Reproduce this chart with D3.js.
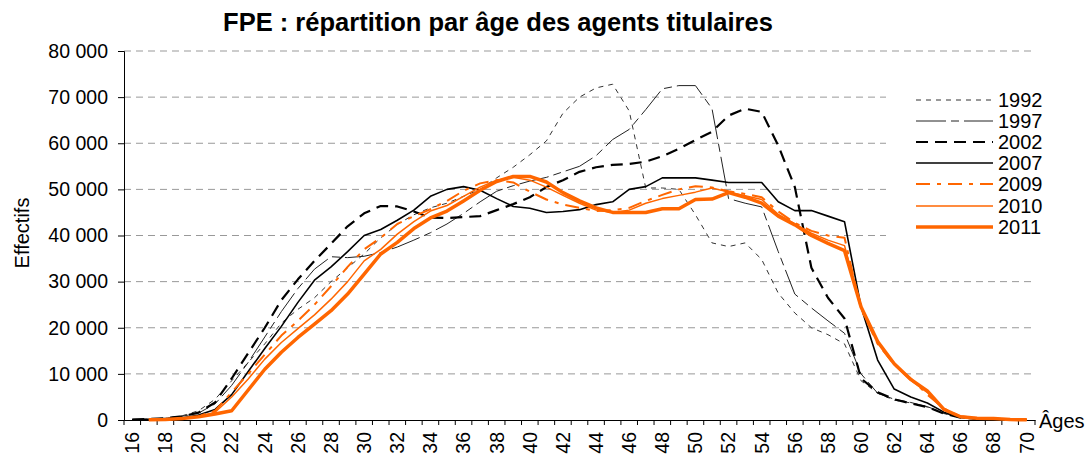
<!DOCTYPE html>
<html>
<head>
<meta charset="utf-8">
<script src="https://d3js.org/d3.v7.min.js"></script>
<style>
  body { margin: 0; background: #fff; }
  svg text { font-family: "Liberation Sans", Arial, sans-serif; fill: #000; }
</style>
</head>
<body>
<svg id="chart" width="1089" height="458"></svg>
<script>
// ages 16..70
var ages = d3.range(16, 71);
var yTicks = [0, 10000, 20000, 30000, 40000, 50000, 60000, 70000, 80000];
var xLabels = d3.range(16, 71, 2);

var y1992 = [100,200,400,900,2000,4500,8500,12500,16500,21000,24000,26500,30000,33000,36000,39500,42400,44500,46000,47000,48500,50000,52500,54800,57500,60500,66500,70000,72000,72800,67000,50300,50300,50000,44500,38400,37600,38400,34800,27500,23200,20000,18500,16500,8500,5800,4300,3700,2800,1400,500,250,150,80,30];
var y1997 = [100,200,400,800,1500,3500,7500,12500,18000,23500,28500,32700,35400,35200,35500,36300,37500,39000,40600,42500,44800,47300,49600,50800,51800,52600,53800,55000,57300,60800,63000,67300,71800,72500,72500,67500,48000,47000,46200,36500,27300,24300,21500,18800,10000,5800,4500,3800,2900,1500,500,250,150,80,30];
var y2002 = [100,200,400,800,1600,3800,9000,14500,20000,26000,30500,34500,38200,42000,44800,46400,46300,45200,43900,43800,44000,44200,45500,46800,48300,50500,52000,53800,54800,55300,55500,56000,57200,58800,60700,62500,66000,67500,66800,59500,50500,33000,26500,22000,9000,6000,4500,3600,2800,1400,500,250,150,80,30];
var y2007 = [100,100,200,400,1100,2300,5500,10500,15500,20300,25500,30300,33200,36500,40000,41300,43300,45500,48500,50000,50600,49800,48000,46300,45900,45000,45200,45600,46700,47300,50000,50600,52500,52500,52500,52000,51500,51500,51500,47300,45400,45400,44200,43000,24500,13000,6700,5000,3700,1700,600,300,150,80,30];
var y2009 = [null,50,100,300,800,2000,6000,10000,14200,18300,21500,25000,29000,33200,37000,39500,42500,44200,45700,47500,49700,51300,52000,51500,49500,47800,46700,46000,45300,45500,46000,47500,48800,50000,50700,50400,49600,49000,48300,45200,42700,41000,40000,39500,24000,16500,12000,9000,5500,2500,800,400,300,100,30];
var y2010 = [null,50,100,250,700,1700,5000,8900,13200,16800,19800,22800,26200,30000,34500,37000,40300,43000,45300,46500,48500,50500,52000,52600,52000,50500,48700,47000,45500,45000,45500,47000,48000,48700,49400,50300,49400,48600,47800,44600,42500,40500,39000,37800,24500,16800,12000,8600,6000,2300,700,400,300,100,30];
var y2011 = [null,50,100,300,700,1300,2000,6500,11000,14700,17900,20800,23700,27300,31600,36000,38500,41500,43800,45300,47500,49800,51700,52800,52800,51600,49300,47500,46000,45000,45000,45000,45800,45800,47800,47900,49300,48300,47000,44200,42300,40000,38300,36700,24500,17000,12200,8800,6300,2300,700,400,350,100,30];

var series = [
  { name: "1992", values: y1992, color: "#333", width: 1, dash: "5,5" },
  { name: "1997", values: y1997, color: "#222", width: 1, dash: "30,5,8,5" },
  { name: "2002", values: y2002, color: "#000", width: 2.2, dash: "12,7" },
  { name: "2007", values: y2007, color: "#000", width: 1.6, dash: null },
  { name: "2009", values: y2009, color: "#ff6600", width: 2, dash: "14,7,4,7" },
  { name: "2010", values: y2010, color: "#ff6600", width: 1.5, dash: null },
  { name: "2011", values: y2011, color: "#ff6600", width: 3.5, dash: null }
];

var svg = d3.select("#chart");
var plotLeft = 124, plotRight = 1035, plotTop = 51, plotBottom = 420;

var x = d3.scaleBand().domain(ages).range([plotLeft, plotRight]).padding(0);
var y = d3.scaleLinear().domain([0, 80000]).range([plotBottom, plotTop]);
var fmt = function(d) { return d3.format(",")(d).replace(/,/g, " "); };

// grid
svg.append("g").selectAll("line")
  .data(yTicks.filter(function(d) { return d > 0; }))
  .enter().append("line")
  .attr("x1", plotLeft).attr("x2", plotRight)
  .attr("y1", function(d) { return y(d); })
  .attr("y2", function(d) { return y(d); })
  .attr("stroke", "#999")
  .attr("stroke-dasharray", "7,5");

// y axis
var yAxis = svg.append("g")
  .attr("transform", "translate(" + plotLeft + ",0)")
  .call(d3.axisLeft(y).tickValues(yTicks).tickSize(6).tickPadding(10).tickFormat(fmt));
yAxis.select(".domain").attr("stroke", "#000");
yAxis.selectAll("text").style("font-size", "19.5px");

// x axis
var xAxis = svg.append("g")
  .attr("transform", "translate(0," + plotBottom + ")")
  .call(d3.axisBottom(x).tickSize(0).tickFormat(function(d) { return xLabels.indexOf(d) >= 0 ? d : ""; }));
xAxis.select(".domain").attr("stroke", "#000");
xAxis.selectAll("text")
  .style("font-size", "19.5px")
  .attr("text-anchor", "end")
  .attr("transform", "rotate(-90)")
  .attr("x", -12)
  .attr("y", 0)
  .attr("dy", "0.35em");
// tick marks between categories
svg.append("g").selectAll("line")
  .data(ages.concat([71]))
  .enter().append("line")
  .attr("x1", function(d) { return d <= 70 ? x(d) : plotRight; })
  .attr("x2", function(d) { return d <= 70 ? x(d) : plotRight; })
  .attr("y1", plotBottom).attr("y2", plotBottom + 5)
  .attr("stroke", "#000");

// lines
var line = d3.line()
  .defined(function(d) { return d != null; })
  .x(function(d, i) { return x(ages[i]) + x.bandwidth() / 2; })
  .y(function(d) { return y(d); });

svg.append("g").selectAll("path")
  .data(series)
  .enter().append("path")
  .attr("fill", "none")
  .attr("stroke", function(d) { return d.color; })
  .attr("stroke-width", function(d) { return d.width; })
  .attr("stroke-dasharray", function(d) { return d.dash; })
  .attr("stroke-linejoin", "round")
  .attr("d", function(d) { return line(d.values); });

// titles
svg.append("text")
  .attr("x", 498).attr("y", 31)
  .attr("text-anchor", "middle")
  .style("font-size", "25.5px").style("font-weight", "bold")
  .text("FPE : répartition par âge des agents titulaires");

svg.append("text")
  .attr("transform", "translate(29,233) rotate(-90)")
  .attr("text-anchor", "middle")
  .style("font-size", "20px")
  .text("Effectifs");

svg.append("text")
  .attr("x", 1039).attr("y", 428)
  .style("font-size", "20px")
  .text("Âges");

// legend
var legend = svg.append("g");
legend.append("rect")
  .attr("x", 886).attr("y", 86).attr("width", 175).attr("height", 158)
  .attr("fill", "#fff");
var rowY = [100, 121, 142, 163, 184, 206, 227];
var item = legend.selectAll("g.item")
  .data(series)
  .enter().append("g")
  .attr("transform", function(d, i) { return "translate(0," + rowY[i] + ")"; });
item.append("line")
  .attr("x1", 916).attr("x2", 993)
  .attr("stroke", function(d) { return d.color; })
  .attr("stroke-width", function(d) { return d.width; })
  .attr("stroke-dasharray", function(d) { return d.dash; });
item.append("text")
  .attr("x", 998).attr("dy", "0.35em")
  .style("font-size", "20px")
  .text(function(d) { return d.name; });
</script>
</body>
</html>
